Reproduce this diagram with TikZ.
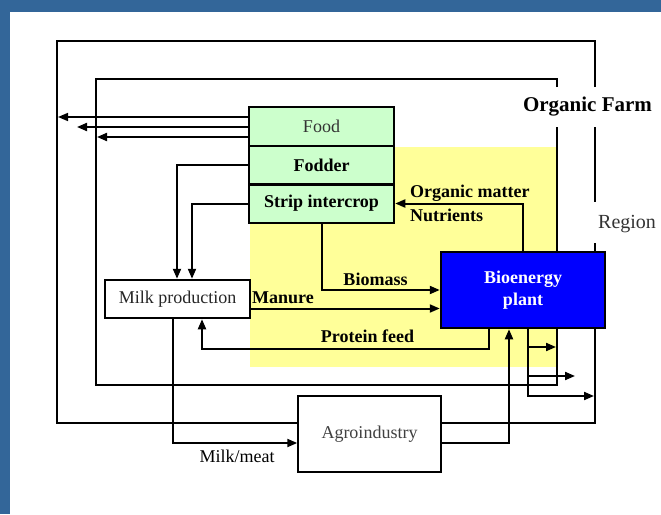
\documentclass[tikz,border=0pt]{standalone}
\usepackage{fontspec}
\setmainfont{Liberation Serif}
\usetikzlibrary{arrows.meta}
\definecolor{frameblue}{RGB}{51,102,153}
\definecolor{farmyellow}{RGB}{255,255,153}
\definecolor{boxgreen}{RGB}{204,255,204}
\definecolor{plantblue}{RGB}{0,0,255}
\tikzset{
  txt/.style={font=\fontsize{18}{22}\selectfont},
  boldtxt/.style={font=\fontsize{18}{22}\selectfont\bfseries},
  greenbox/.style={draw=black, line width=2.5pt, fill=boxgreen, minimum width=145pt, inner sep=0pt, anchor=center},
  thickbox/.style={draw=black, line width=2.5pt, inner sep=0pt},
  arr/.style={line width=2pt, -{Triangle[length=10pt,width=8pt]}},
  plainline/.style={line width=2pt},
  lbl/.style={boldtxt, inner sep=0pt}
}
\begin{document}
\begin{tikzpicture}[x=1pt,y=-1pt]
\useasboundingbox (0,0) rectangle (661,514);
% frame
\fill[white] (0,0) rectangle (661,514);
\fill[frameblue] (0,0) rectangle (661,12);
\fill[frameblue] (0,0) rectangle (10,514);
% yellow farm area
\fill[farmyellow] (250,147) rectangle (557,367);
% region rectangle (with gaps for labels)
\draw[line width=1.5pt] (595,87) -- (595,41) -- (57,41) -- (57,423) -- (595,423) -- (595,243);
\draw[line width=1.5pt] (595,127) -- (595,202);
% organic farm rectangle
\draw[line width=2.5pt] (557,87) -- (557,79) -- (96,79) -- (96,385) -- (557,385) -- (557,127);
% nodes
\node[greenbox, minimum height=39pt, txt, text=black!80] (food) at (321.5,126.5) {Food};
\node[greenbox, minimum height=38pt, boldtxt] (fodder) at (321.5,165) {Fodder};
\node[greenbox, minimum height=38.5pt, boldtxt] (strip) at (321.5,203.5) {Strip intercrop};
\node[thickbox, fill=white, minimum width=145pt, minimum height=38pt, txt, text=black!85] (milk) at (177.5,299) {Milk production};
\node[thickbox, fill=plantblue, minimum width=164pt, minimum height=76pt, boldtxt, text=white, align=center] (bio) at (523,290) {Bioenergy\\plant};
\node[draw=black, line width=1.5pt, fill=white, minimum width=143pt, minimum height=76pt, inner sep=0pt, txt, text=black!75] (agro) at (369.5,434) {Agroindustry};
% free ends
\coordinate (out1) at (58,117);
\coordinate (out2) at (77,127);
\coordinate (out3) at (97,137);
\coordinate (bo1) at (556,347);
\coordinate (bo2) at (575,376);
\coordinate (bo3) at (594,396);
% food outputs
\draw[arr, line width=1.6pt] (food.west |- out1) -- (out1);
\draw[arr] (food.west |- out2) -- (out2);
\draw[arr] (food.west |- out3) -- (out3);
% fodder and strip intercrop to milk
\draw[arr] (fodder.west) -| ([xshift=-0.5pt]milk.north);
\draw[arr] (strip.west) -| ([xshift=14.5pt]milk.north);
% biomass
\draw[arr] (strip.south) |- (bio.west);
% manure
\draw[arr] ([yshift=-9.5pt]milk.east) coordinate (mstart) -- (mstart -| bio.west);
% protein feed
\draw[arr] ([xshift=-34pt]bio.south) -- ++(0,20) -| ([xshift=24.5pt]milk.south);
% organic matter / nutrients
\draw[arr] (bio.north) |- (strip.east);
% bioenergy outputs
\draw[arr] ([xshift=5pt]bio.south) |- (bo1);
\draw[arr] ([xshift=5pt]bio.south) |- (bo2);
\draw[arr] ([xshift=5pt]bio.south) |- (bo3);
% milk/meat
\draw[arr] ([xshift=-4.5pt]milk.south) |- ([yshift=-9pt]agro.west);
% agroindustry to bioenergy
\draw[arr] ([yshift=-9pt]agro.east) -| ([xshift=-14pt]bio.south);
% labels
\node[lbl] (lbiomass) at (375.5,279) {Biomass};
\node[lbl] (lmanure) at (283,298) {Manure};
\node[lbl] (lprotein) at (367.5,336.5) {Protein feed};
\node[txt, inner sep=0pt] (lmilkmeat) at (237,456) {Milk/meat};
\node[lbl, anchor=west] (lorganic) at (410,193) {Organic matter};
\node[lbl, anchor=west] (lnutrients) at (410,215) {Nutrients};
\node[inner sep=0pt, font=\fontsize{21}{24}\selectfont\bfseries] (lfarm) at (587.5,107) {Organic Farm};
\node[inner sep=0pt, anchor=west, font=\fontsize{20}{24}\selectfont, text=black!80] (lregion) at (598,224) {Region};
\end{tikzpicture}
\end{document}
